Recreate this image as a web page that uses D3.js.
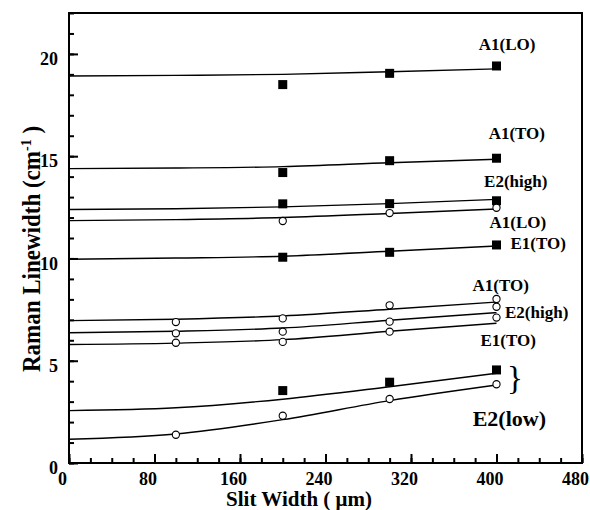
<!DOCTYPE html>
<html>
<head>
<meta charset="utf-8">
<script src="https://cdn.jsdelivr.net/npm/d3@7"></script>
<style>
body { margin: 0; background: #fff; }
svg text { font-family: "Liberation Serif", "DejaVu Serif", serif; font-weight: bold; fill: #000; }
</style>
</head>
<body>
<svg id="chart" width="590" height="510"></svg>
<script>

// x positions (slit width, um)
var fitX = [0, 100, 200, 300, 400]
var x3 = [200, 300, 400]
var x4 = [100, 200, 300, 400]

// measured linewidths (cm-1) and fitted curves
var a1loSq = [18.5, 19.05, 19.41]
var a1loSqFit = [18.92, 18.95, 19.0, 19.13, 19.27]
var a1toSq = [14.2, 14.78, 14.9]
var a1toSqFit = [14.39, 14.42, 14.49, 14.68, 14.85]
var e2hiSq = [12.67, 12.68, 12.82]
var e2hiSqFit = [12.39, 12.43, 12.52, 12.68, 12.89]
var a1loCi = [11.83, 12.22, 12.48]
var a1loCiFit = [11.85, 11.9, 12.0, 12.2, 12.42]
var e1toSq = [10.06, 10.3, 10.66]
var e1toSqFit = [9.96, 10.02, 10.11, 10.35, 10.61]
var a1toCi = [6.89, 7.07, 7.71, 8.02]
var a1toCiFit = [6.96, 7.03, 7.19, 7.52, 7.87]
var e2hiCi = [6.34, 6.42, 6.91, 7.64]
var e2hiCiFit = [6.37, 6.44, 6.6, 6.98, 7.35]
var e1toCi = [5.88, 5.92, 6.42, 7.11]
var e1toCiFit = [5.79, 5.86, 6.03, 6.44, 6.83]
var e2loSq = [3.54, 3.95, 4.55]
var e2loSqFit = [2.56, 2.7, 3.12, 3.73, 4.39]
var e2loCi = [1.38, 2.31, 3.13, 3.85]
var e2loCiFit = [1.16, 1.42, 2.12, 3.05, 3.81]

var xTicks = [0, 80, 160, 240, 320, 400, 480]
var yTicks = [0, 5, 10, 15, 20]

var series = [
  {shape: "sq", xs: x3, ys: a1loSq, fit: a1loSqFit},
  {shape: "sq", xs: x3, ys: a1toSq, fit: a1toSqFit},
  {shape: "sq", xs: x3, ys: e2hiSq, fit: e2hiSqFit},
  {shape: "ci", xs: x3, ys: a1loCi, fit: a1loCiFit},
  {shape: "sq", xs: x3, ys: e1toSq, fit: e1toSqFit},
  {shape: "ci", xs: x4, ys: a1toCi, fit: a1toCiFit},
  {shape: "ci", xs: x4, ys: e2hiCi, fit: e2hiCiFit},
  {shape: "ci", xs: x4, ys: e1toCi, fit: e1toCiFit},
  {shape: "sq", xs: x3, ys: e2loSq, fit: e2loSqFit},
  {shape: "ci", xs: x4, ys: e2loCi, fit: e2loCiFit}
]

// mode labels, placed in data units
var labels = [
  {t: "A1(LO)", x: 410, y: 20.17, s: 17},
  {t: "A1(TO)", x: 419, y: 15.84, s: 17},
  {t: "E2(high)", x: 418, y: 13.49, s: 17},
  {t: "A1(LO)", x: 420, y: 11.49, s: 17},
  {t: "E1(TO)", x: 439, y: 10.46, s: 17},
  {t: "A1(TO)", x: 404, y: 8.43, s: 17},
  {t: "E2(high)", x: 437.6, y: 7.10, s: 17},
  {t: "E1(TO)", x: 411, y: 5.72, s: 17},
  {t: "E2(low)", x: 412, y: 1.81, s: 22}
]

var margins = {top: 13, left: 69, right: 8, bottom: 47}
var width = 590 - margins.left - margins.right
var height = 510 - margins.top - margins.bottom

var svg = d3.select("#chart")
var g = svg.append("g").attr("transform", "translate(" + margins.left + "," + margins.top + ")")

var xScale = d3.scaleLinear().domain([0, 480]).range([0, width])
var yScale = d3.scaleLinear().domain([0, 22]).range([height, 0])

// minor ticks
g.append("g")
  .attr("transform", "translate(0," + height + ")")
  .call(d3.axisBottom(xScale).tickValues(d3.range(0, 481, 20)).tickSize(-5).tickFormat(""))
g.append("g")
  .call(d3.axisLeft(yScale).tickValues(d3.range(0, 23, 1)).tickSize(-5).tickFormat(""))

// major ticks + labels
var xAxis = g.append("g")
  .attr("transform", "translate(0," + height + ")")
  .call(d3.axisBottom(xScale).tickValues(xTicks).tickSize(-9).tickPadding(9))
xAxis.selectAll("text").attr("dx", -7).style("font-size", "18px")

var yAxis = g.append("g")
  .call(d3.axisLeft(yScale).tickValues(yTicks).tickSize(-9).tickPadding(11))
yAxis.selectAll("text").attr("y", 5).style("font-size", "18px")

g.selectAll(".domain").remove()
g.selectAll(".tick line").attr("stroke", "#000").attr("stroke-width", 2)
g.selectAll("g").attr("font-family", null).attr("font-size", null)
g.selectAll(".tick text").attr("fill", "#000")

// frame
g.append("rect")
  .attr("width", width).attr("height", height)
  .attr("fill", "none").attr("stroke", "#000").attr("stroke-width", 2)

var line = d3.line()
  .x(function(d){ return xScale(d[0]) })
  .y(function(d){ return yScale(d[1]) })
  .curve(d3.curveMonotoneX)

for (var i = 0; i < series.length; i++) {
  var s = series[i]
  g.append("path")
    .datum(fitX.map(function(x, j){ return [x, s.fit[j]] }))
    .attr("d", line)
    .attr("fill", "none")
    .attr("stroke", "#000")
    .attr("stroke-width", 1.4)
}

for (var i = 0; i < series.length; i++) {
  var s = series[i]
  var pts = s.xs.map(function(x, j){ return [x, s.ys[j]] })
  if (s.shape == "sq") {
    g.selectAll(null).data(pts).enter().append("rect")
      .attr("x", function(d){ return xScale(d[0]) - 4.5 })
      .attr("y", function(d){ return yScale(d[1]) - 4.5 })
      .attr("width", 9).attr("height", 9)
      .attr("fill", "#000")
  } else {
    g.selectAll(null).data(pts).enter().append("circle")
      .attr("cx", function(d){ return xScale(d[0]) })
      .attr("cy", function(d){ return yScale(d[1]) })
      .attr("r", 3.6)
      .attr("fill", "#fff").attr("stroke", "#000").attr("stroke-width", 1.1)
  }
}

g.selectAll(".mode").data(labels).enter().append("text")
  .attr("class", "mode")
  .attr("x", function(d){ return xScale(d.x) })
  .attr("y", function(d){ return yScale(d.y) })
  .attr("text-anchor", "middle")
  .style("font-size", function(d){ return d.s + "px" })
  .text(function(d){ return d.t })

// brace grouping the two E2(low) series
g.append("text")
  .attr("x", xScale(417.3)).attr("y", yScale(3.6))
  .attr("text-anchor", "middle")
  .style("font-size", "33px").style("font-weight", "normal")
  .text("}")

// axis titles
svg.append("text")
  .attr("x", 299).attr("y", 506)
  .attr("text-anchor", "middle")
  .style("font-size", "21px")
  .text("Slit Width ( \u03bcm)")

var yt = svg.append("text")
  .attr("transform", "translate(40,249) rotate(-90) scale(1,1.05)")
  .attr("text-anchor", "middle")
  .style("font-size", "23px")
yt.append("tspan").text("Raman Linewidth (cm")
yt.append("tspan").attr("dy", -9).style("font-size", "14px").text("-1")
yt.append("tspan").attr("dy", 9).text(" )")

</script>
</body>
</html>
